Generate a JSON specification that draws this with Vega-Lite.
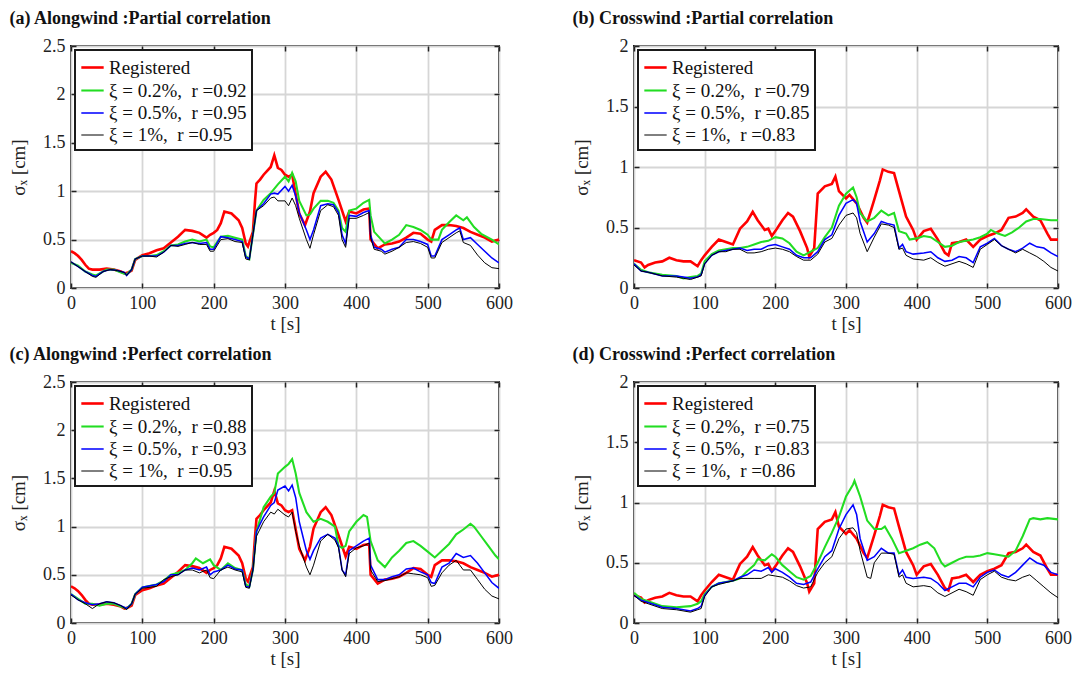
{
"$schema": "https://vega.github.io/schema/vega-lite/v6.json",
"padding": {"left": 8, "top": 9, "right": 10, "bottom": 6},
"background": "white",
"datasets": {"d": [
{"p":"A","s":"R","t":0,"v":0.38},{"p":"A","s":"R","t":5,"v":0.36},{"p":"A","s":"R","t":10,"v":0.33},{"p":"A","s":"R","t":15,"v":0.29},{"p":"A","s":"R","t":20,"v":0.24},{"p":"A","s":"R","t":25,"v":0.2},{"p":"A","s":"R","t":30,"v":0.19},{"p":"A","s":"R","t":40,"v":0.19},{"p":"A","s":"R","t":50,"v":0.2},{"p":"A","s":"R","t":60,"v":0.19},{"p":"A","s":"R","t":70,"v":0.17},{"p":"A","s":"R","t":75,"v":0.15},{"p":"A","s":"R","t":80,"v":0.16},{"p":"A","s":"R","t":85,"v":0.18},{"p":"A","s":"R","t":90,"v":0.29},{"p":"A","s":"R","t":100,"v":0.34},{"p":"A","s":"R","t":110,"v":0.36},{"p":"A","s":"R","t":120,"v":0.39},{"p":"A","s":"R","t":130,"v":0.41},{"p":"A","s":"R","t":140,"v":0.47},{"p":"A","s":"R","t":150,"v":0.53},{"p":"A","s":"R","t":160,"v":0.6},{"p":"A","s":"R","t":170,"v":0.59},{"p":"A","s":"R","t":180,"v":0.57},{"p":"A","s":"R","t":190,"v":0.52},{"p":"A","s":"R","t":195,"v":0.55},{"p":"A","s":"R","t":200,"v":0.57},{"p":"A","s":"R","t":205,"v":0.6},{"p":"A","s":"R","t":210,"v":0.67},{"p":"A","s":"R","t":215,"v":0.79},{"p":"A","s":"R","t":225,"v":0.77},{"p":"A","s":"R","t":235,"v":0.7},{"p":"A","s":"R","t":240,"v":0.62},{"p":"A","s":"R","t":245,"v":0.46},{"p":"A","s":"R","t":248,"v":0.43},{"p":"A","s":"R","t":255,"v":0.58},{"p":"A","s":"R","t":258,"v":0.9},{"p":"A","s":"R","t":260,"v":1.08},{"p":"A","s":"R","t":265,"v":1.12},{"p":"A","s":"R","t":270,"v":1.17},{"p":"A","s":"R","t":280,"v":1.25},{"p":"A","s":"R","t":285,"v":1.37},{"p":"A","s":"R","t":290,"v":1.24},{"p":"A","s":"R","t":295,"v":1.22},{"p":"A","s":"R","t":300,"v":1.17},{"p":"A","s":"R","t":305,"v":1.15},{"p":"A","s":"R","t":310,"v":1.17},{"p":"A","s":"R","t":313,"v":1.05},{"p":"A","s":"R","t":320,"v":0.77},{"p":"A","s":"R","t":328,"v":0.65},{"p":"A","s":"R","t":335,"v":0.79},{"p":"A","s":"R","t":340,"v":0.98},{"p":"A","s":"R","t":350,"v":1.15},{"p":"A","s":"R","t":357,"v":1.2},{"p":"A","s":"R","t":365,"v":1.12},{"p":"A","s":"R","t":375,"v":0.91},{"p":"A","s":"R","t":385,"v":0.69},{"p":"A","s":"R","t":390,"v":0.79},{"p":"A","s":"R","t":400,"v":0.77},{"p":"A","s":"R","t":410,"v":0.81},{"p":"A","s":"R","t":418,"v":0.82},{"p":"A","s":"R","t":420,"v":0.5},{"p":"A","s":"R","t":430,"v":0.41},{"p":"A","s":"R","t":440,"v":0.45},{"p":"A","s":"R","t":450,"v":0.46},{"p":"A","s":"R","t":460,"v":0.48},{"p":"A","s":"R","t":470,"v":0.52},{"p":"A","s":"R","t":480,"v":0.57},{"p":"A","s":"R","t":490,"v":0.56},{"p":"A","s":"R","t":500,"v":0.5},{"p":"A","s":"R","t":505,"v":0.48},{"p":"A","s":"R","t":510,"v":0.6},{"p":"A","s":"R","t":520,"v":0.65},{"p":"A","s":"R","t":530,"v":0.65},{"p":"A","s":"R","t":540,"v":0.64},{"p":"A","s":"R","t":550,"v":0.62},{"p":"A","s":"R","t":560,"v":0.58},{"p":"A","s":"R","t":570,"v":0.55},{"p":"A","s":"R","t":580,"v":0.52},{"p":"A","s":"R","t":590,"v":0.48},{"p":"A","s":"R","t":600,"v":0.5},
{"p":"C","s":"R","t":0,"v":0.23},{"p":"C","s":"R","t":10,"v":0.21},{"p":"C","s":"R","t":15,"v":0.17},{"p":"C","s":"R","t":20,"v":0.19},{"p":"C","s":"R","t":30,"v":0.21},{"p":"C","s":"R","t":40,"v":0.22},{"p":"C","s":"R","t":50,"v":0.25},{"p":"C","s":"R","t":60,"v":0.23},{"p":"C","s":"R","t":70,"v":0.22},{"p":"C","s":"R","t":80,"v":0.22},{"p":"C","s":"R","t":90,"v":0.18},{"p":"C","s":"R","t":95,"v":0.23},{"p":"C","s":"R","t":100,"v":0.27},{"p":"C","s":"R","t":110,"v":0.34},{"p":"C","s":"R","t":120,"v":0.4},{"p":"C","s":"R","t":130,"v":0.38},{"p":"C","s":"R","t":140,"v":0.36},{"p":"C","s":"R","t":150,"v":0.49},{"p":"C","s":"R","t":160,"v":0.55},{"p":"C","s":"R","t":168,"v":0.63},{"p":"C","s":"R","t":175,"v":0.56},{"p":"C","s":"R","t":185,"v":0.48},{"p":"C","s":"R","t":190,"v":0.49},{"p":"C","s":"R","t":195,"v":0.43},{"p":"C","s":"R","t":200,"v":0.47},{"p":"C","s":"R","t":210,"v":0.56},{"p":"C","s":"R","t":218,"v":0.62},{"p":"C","s":"R","t":225,"v":0.59},{"p":"C","s":"R","t":235,"v":0.47},{"p":"C","s":"R","t":245,"v":0.33},{"p":"C","s":"R","t":248,"v":0.26},{"p":"C","s":"R","t":255,"v":0.33},{"p":"C","s":"R","t":260,"v":0.78},{"p":"C","s":"R","t":270,"v":0.84},{"p":"C","s":"R","t":280,"v":0.86},{"p":"C","s":"R","t":285,"v":0.92},{"p":"C","s":"R","t":290,"v":0.8},{"p":"C","s":"R","t":300,"v":0.74},{"p":"C","s":"R","t":305,"v":0.77},{"p":"C","s":"R","t":315,"v":0.7},{"p":"C","s":"R","t":325,"v":0.58},{"p":"C","s":"R","t":330,"v":0.54},{"p":"C","s":"R","t":340,"v":0.73},{"p":"C","s":"R","t":348,"v":0.89},{"p":"C","s":"R","t":352,"v":0.98},{"p":"C","s":"R","t":360,"v":0.96},{"p":"C","s":"R","t":368,"v":0.95},{"p":"C","s":"R","t":375,"v":0.8},{"p":"C","s":"R","t":385,"v":0.59},{"p":"C","s":"R","t":395,"v":0.48},{"p":"C","s":"R","t":400,"v":0.4},{"p":"C","s":"R","t":410,"v":0.47},{"p":"C","s":"R","t":420,"v":0.49},{"p":"C","s":"R","t":430,"v":0.4},{"p":"C","s":"R","t":440,"v":0.29},{"p":"C","s":"R","t":445,"v":0.27},{"p":"C","s":"R","t":450,"v":0.37},{"p":"C","s":"R","t":460,"v":0.38},{"p":"C","s":"R","t":470,"v":0.4},{"p":"C","s":"R","t":480,"v":0.34},{"p":"C","s":"R","t":490,"v":0.4},{"p":"C","s":"R","t":500,"v":0.43},{"p":"C","s":"R","t":510,"v":0.45},{"p":"C","s":"R","t":520,"v":0.48},{"p":"C","s":"R","t":530,"v":0.58},{"p":"C","s":"R","t":540,"v":0.59},{"p":"C","s":"R","t":550,"v":0.62},{"p":"C","s":"R","t":555,"v":0.65},{"p":"C","s":"R","t":565,"v":0.59},{"p":"C","s":"R","t":575,"v":0.56},{"p":"C","s":"R","t":585,"v":0.45},{"p":"C","s":"R","t":590,"v":0.4},{"p":"C","s":"R","t":600,"v":0.4},
{"p":"a","s":"g","t":0,"v":0.26},{"p":"a","s":"g","t":10,"v":0.23},{"p":"a","s":"g","t":20,"v":0.17},{"p":"a","s":"g","t":30,"v":0.14},{"p":"a","s":"g","t":35,"v":0.13},{"p":"a","s":"g","t":40,"v":0.15},{"p":"a","s":"g","t":50,"v":0.19},{"p":"a","s":"g","t":60,"v":0.19},{"p":"a","s":"g","t":70,"v":0.16},{"p":"a","s":"g","t":78,"v":0.14},{"p":"a","s":"g","t":85,"v":0.19},{"p":"a","s":"g","t":90,"v":0.3},{"p":"a","s":"g","t":100,"v":0.33},{"p":"a","s":"g","t":110,"v":0.33},{"p":"a","s":"g","t":120,"v":0.34},{"p":"a","s":"g","t":130,"v":0.38},{"p":"a","s":"g","t":140,"v":0.44},{"p":"a","s":"g","t":150,"v":0.45},{"p":"a","s":"g","t":160,"v":0.48},{"p":"a","s":"g","t":170,"v":0.5},{"p":"a","s":"g","t":180,"v":0.48},{"p":"a","s":"g","t":190,"v":0.5},{"p":"a","s":"g","t":195,"v":0.43},{"p":"a","s":"g","t":200,"v":0.42},{"p":"a","s":"g","t":210,"v":0.53},{"p":"a","s":"g","t":220,"v":0.54},{"p":"a","s":"g","t":230,"v":0.52},{"p":"a","s":"g","t":240,"v":0.5},{"p":"a","s":"g","t":245,"v":0.33},{"p":"a","s":"g","t":250,"v":0.3},{"p":"a","s":"g","t":255,"v":0.55},{"p":"a","s":"g","t":260,"v":0.8},{"p":"a","s":"g","t":270,"v":0.91},{"p":"a","s":"g","t":280,"v":0.98},{"p":"a","s":"g","t":290,"v":1.07},{"p":"a","s":"g","t":300,"v":1.15},{"p":"a","s":"g","t":305,"v":1.1},{"p":"a","s":"g","t":310,"v":1.19},{"p":"a","s":"g","t":315,"v":1.1},{"p":"a","s":"g","t":320,"v":0.9},{"p":"a","s":"g","t":330,"v":0.75},{"p":"a","s":"g","t":335,"v":0.76},{"p":"a","s":"g","t":340,"v":0.82},{"p":"a","s":"g","t":350,"v":0.9},{"p":"a","s":"g","t":360,"v":0.9},{"p":"a","s":"g","t":368,"v":0.88},{"p":"a","s":"g","t":375,"v":0.8},{"p":"a","s":"g","t":380,"v":0.62},{"p":"a","s":"g","t":385,"v":0.58},{"p":"a","s":"g","t":390,"v":0.8},{"p":"a","s":"g","t":400,"v":0.82},{"p":"a","s":"g","t":410,"v":0.88},{"p":"a","s":"g","t":418,"v":0.91},{"p":"a","s":"g","t":420,"v":0.75},{"p":"a","s":"g","t":425,"v":0.58},{"p":"a","s":"g","t":435,"v":0.5},{"p":"a","s":"g","t":440,"v":0.46},{"p":"a","s":"g","t":450,"v":0.5},{"p":"a","s":"g","t":460,"v":0.55},{"p":"a","s":"g","t":470,"v":0.65},{"p":"a","s":"g","t":480,"v":0.63},{"p":"a","s":"g","t":490,"v":0.6},{"p":"a","s":"g","t":500,"v":0.55},{"p":"a","s":"g","t":505,"v":0.5},{"p":"a","s":"g","t":515,"v":0.5},{"p":"a","s":"g","t":520,"v":0.6},{"p":"a","s":"g","t":530,"v":0.68},{"p":"a","s":"g","t":540,"v":0.75},{"p":"a","s":"g","t":550,"v":0.7},{"p":"a","s":"g","t":555,"v":0.73},{"p":"a","s":"g","t":565,"v":0.63},{"p":"a","s":"g","t":575,"v":0.56},{"p":"a","s":"g","t":590,"v":0.5},{"p":"a","s":"g","t":600,"v":0.45},
{"p":"a","s":"b","t":0,"v":0.27},{"p":"a","s":"b","t":10,"v":0.22},{"p":"a","s":"b","t":20,"v":0.17},{"p":"a","s":"b","t":30,"v":0.13},{"p":"a","s":"b","t":35,"v":0.12},{"p":"a","s":"b","t":45,"v":0.17},{"p":"a","s":"b","t":55,"v":0.19},{"p":"a","s":"b","t":65,"v":0.18},{"p":"a","s":"b","t":75,"v":0.16},{"p":"a","s":"b","t":78,"v":0.13},{"p":"a","s":"b","t":85,"v":0.19},{"p":"a","s":"b","t":90,"v":0.3},{"p":"a","s":"b","t":100,"v":0.33},{"p":"a","s":"b","t":110,"v":0.33},{"p":"a","s":"b","t":120,"v":0.33},{"p":"a","s":"b","t":130,"v":0.37},{"p":"a","s":"b","t":140,"v":0.44},{"p":"a","s":"b","t":150,"v":0.44},{"p":"a","s":"b","t":160,"v":0.46},{"p":"a","s":"b","t":170,"v":0.47},{"p":"a","s":"b","t":180,"v":0.46},{"p":"a","s":"b","t":190,"v":0.47},{"p":"a","s":"b","t":195,"v":0.4},{"p":"a","s":"b","t":200,"v":0.4},{"p":"a","s":"b","t":210,"v":0.53},{"p":"a","s":"b","t":220,"v":0.52},{"p":"a","s":"b","t":230,"v":0.5},{"p":"a","s":"b","t":240,"v":0.48},{"p":"a","s":"b","t":245,"v":0.32},{"p":"a","s":"b","t":250,"v":0.3},{"p":"a","s":"b","t":255,"v":0.55},{"p":"a","s":"b","t":260,"v":0.8},{"p":"a","s":"b","t":270,"v":0.87},{"p":"a","s":"b","t":280,"v":0.97},{"p":"a","s":"b","t":285,"v":0.98},{"p":"a","s":"b","t":290,"v":0.97},{"p":"a","s":"b","t":300,"v":1.05},{"p":"a","s":"b","t":305,"v":1.0},{"p":"a","s":"b","t":310,"v":1.06},{"p":"a","s":"b","t":315,"v":0.95},{"p":"a","s":"b","t":320,"v":0.78},{"p":"a","s":"b","t":330,"v":0.6},{"p":"a","s":"b","t":335,"v":0.5},{"p":"a","s":"b","t":340,"v":0.6},{"p":"a","s":"b","t":350,"v":0.85},{"p":"a","s":"b","t":360,"v":0.87},{"p":"a","s":"b","t":368,"v":0.86},{"p":"a","s":"b","t":375,"v":0.78},{"p":"a","s":"b","t":380,"v":0.55},{"p":"a","s":"b","t":385,"v":0.46},{"p":"a","s":"b","t":390,"v":0.75},{"p":"a","s":"b","t":400,"v":0.74},{"p":"a","s":"b","t":410,"v":0.78},{"p":"a","s":"b","t":418,"v":0.8},{"p":"a","s":"b","t":420,"v":0.55},{"p":"a","s":"b","t":425,"v":0.42},{"p":"a","s":"b","t":435,"v":0.4},{"p":"a","s":"b","t":440,"v":0.37},{"p":"a","s":"b","t":450,"v":0.4},{"p":"a","s":"b","t":460,"v":0.42},{"p":"a","s":"b","t":470,"v":0.5},{"p":"a","s":"b","t":480,"v":0.5},{"p":"a","s":"b","t":490,"v":0.48},{"p":"a","s":"b","t":500,"v":0.45},{"p":"a","s":"b","t":505,"v":0.33},{"p":"a","s":"b","t":510,"v":0.33},{"p":"a","s":"b","t":520,"v":0.5},{"p":"a","s":"b","t":530,"v":0.55},{"p":"a","s":"b","t":540,"v":0.6},{"p":"a","s":"b","t":545,"v":0.62},{"p":"a","s":"b","t":550,"v":0.5},{"p":"a","s":"b","t":560,"v":0.52},{"p":"a","s":"b","t":570,"v":0.45},{"p":"a","s":"b","t":580,"v":0.38},{"p":"a","s":"b","t":590,"v":0.31},{"p":"a","s":"b","t":600,"v":0.26},
{"p":"a","s":"k","t":0,"v":0.27},{"p":"a","s":"k","t":10,"v":0.22},{"p":"a","s":"k","t":20,"v":0.17},{"p":"a","s":"k","t":30,"v":0.12},{"p":"a","s":"k","t":35,"v":0.11},{"p":"a","s":"k","t":45,"v":0.17},{"p":"a","s":"k","t":55,"v":0.19},{"p":"a","s":"k","t":65,"v":0.18},{"p":"a","s":"k","t":75,"v":0.16},{"p":"a","s":"k","t":78,"v":0.13},{"p":"a","s":"k","t":85,"v":0.19},{"p":"a","s":"k","t":90,"v":0.3},{"p":"a","s":"k","t":100,"v":0.33},{"p":"a","s":"k","t":110,"v":0.33},{"p":"a","s":"k","t":120,"v":0.32},{"p":"a","s":"k","t":130,"v":0.37},{"p":"a","s":"k","t":140,"v":0.44},{"p":"a","s":"k","t":150,"v":0.43},{"p":"a","s":"k","t":160,"v":0.45},{"p":"a","s":"k","t":170,"v":0.47},{"p":"a","s":"k","t":180,"v":0.45},{"p":"a","s":"k","t":190,"v":0.45},{"p":"a","s":"k","t":195,"v":0.38},{"p":"a","s":"k","t":200,"v":0.38},{"p":"a","s":"k","t":210,"v":0.5},{"p":"a","s":"k","t":220,"v":0.51},{"p":"a","s":"k","t":230,"v":0.48},{"p":"a","s":"k","t":240,"v":0.47},{"p":"a","s":"k","t":245,"v":0.3},{"p":"a","s":"k","t":250,"v":0.29},{"p":"a","s":"k","t":255,"v":0.55},{"p":"a","s":"k","t":260,"v":0.8},{"p":"a","s":"k","t":270,"v":0.85},{"p":"a","s":"k","t":280,"v":0.93},{"p":"a","s":"k","t":285,"v":0.94},{"p":"a","s":"k","t":290,"v":0.9},{"p":"a","s":"k","t":300,"v":0.9},{"p":"a","s":"k","t":305,"v":0.85},{"p":"a","s":"k","t":310,"v":0.93},{"p":"a","s":"k","t":315,"v":0.85},{"p":"a","s":"k","t":320,"v":0.72},{"p":"a","s":"k","t":330,"v":0.5},{"p":"a","s":"k","t":335,"v":0.41},{"p":"a","s":"k","t":340,"v":0.55},{"p":"a","s":"k","t":350,"v":0.8},{"p":"a","s":"k","t":360,"v":0.86},{"p":"a","s":"k","t":368,"v":0.84},{"p":"a","s":"k","t":375,"v":0.75},{"p":"a","s":"k","t":380,"v":0.5},{"p":"a","s":"k","t":385,"v":0.42},{"p":"a","s":"k","t":390,"v":0.72},{"p":"a","s":"k","t":400,"v":0.72},{"p":"a","s":"k","t":410,"v":0.75},{"p":"a","s":"k","t":418,"v":0.78},{"p":"a","s":"k","t":420,"v":0.52},{"p":"a","s":"k","t":425,"v":0.4},{"p":"a","s":"k","t":435,"v":0.38},{"p":"a","s":"k","t":440,"v":0.35},{"p":"a","s":"k","t":450,"v":0.38},{"p":"a","s":"k","t":460,"v":0.42},{"p":"a","s":"k","t":470,"v":0.47},{"p":"a","s":"k","t":480,"v":0.48},{"p":"a","s":"k","t":490,"v":0.46},{"p":"a","s":"k","t":500,"v":0.42},{"p":"a","s":"k","t":505,"v":0.31},{"p":"a","s":"k","t":510,"v":0.31},{"p":"a","s":"k","t":520,"v":0.47},{"p":"a","s":"k","t":530,"v":0.52},{"p":"a","s":"k","t":540,"v":0.57},{"p":"a","s":"k","t":545,"v":0.59},{"p":"a","s":"k","t":550,"v":0.47},{"p":"a","s":"k","t":560,"v":0.44},{"p":"a","s":"k","t":570,"v":0.34},{"p":"a","s":"k","t":580,"v":0.26},{"p":"a","s":"k","t":590,"v":0.21},{"p":"a","s":"k","t":600,"v":0.2},
{"p":"b","s":"g","t":0,"v":0.2},{"p":"b","s":"g","t":10,"v":0.15},{"p":"b","s":"g","t":20,"v":0.13},{"p":"b","s":"g","t":40,"v":0.11},{"p":"b","s":"g","t":60,"v":0.1},{"p":"b","s":"g","t":70,"v":0.08},{"p":"b","s":"g","t":80,"v":0.09},{"p":"b","s":"g","t":90,"v":0.1},{"p":"b","s":"g","t":95,"v":0.12},{"p":"b","s":"g","t":100,"v":0.22},{"p":"b","s":"g","t":110,"v":0.28},{"p":"b","s":"g","t":120,"v":0.31},{"p":"b","s":"g","t":130,"v":0.32},{"p":"b","s":"g","t":140,"v":0.33},{"p":"b","s":"g","t":150,"v":0.33},{"p":"b","s":"g","t":160,"v":0.34},{"p":"b","s":"g","t":170,"v":0.36},{"p":"b","s":"g","t":180,"v":0.38},{"p":"b","s":"g","t":190,"v":0.39},{"p":"b","s":"g","t":200,"v":0.42},{"p":"b","s":"g","t":210,"v":0.41},{"p":"b","s":"g","t":220,"v":0.37},{"p":"b","s":"g","t":230,"v":0.3},{"p":"b","s":"g","t":240,"v":0.27},{"p":"b","s":"g","t":250,"v":0.3},{"p":"b","s":"g","t":260,"v":0.33},{"p":"b","s":"g","t":270,"v":0.42},{"p":"b","s":"g","t":280,"v":0.5},{"p":"b","s":"g","t":290,"v":0.68},{"p":"b","s":"g","t":300,"v":0.78},{"p":"b","s":"g","t":310,"v":0.83},{"p":"b","s":"g","t":315,"v":0.75},{"p":"b","s":"g","t":320,"v":0.62},{"p":"b","s":"g","t":330,"v":0.55},{"p":"b","s":"g","t":340,"v":0.58},{"p":"b","s":"g","t":350,"v":0.64},{"p":"b","s":"g","t":360,"v":0.6},{"p":"b","s":"g","t":368,"v":0.62},{"p":"b","s":"g","t":375,"v":0.47},{"p":"b","s":"g","t":385,"v":0.45},{"p":"b","s":"g","t":390,"v":0.4},{"p":"b","s":"g","t":400,"v":0.41},{"p":"b","s":"g","t":410,"v":0.43},{"p":"b","s":"g","t":420,"v":0.42},{"p":"b","s":"g","t":430,"v":0.38},{"p":"b","s":"g","t":440,"v":0.34},{"p":"b","s":"g","t":450,"v":0.35},{"p":"b","s":"g","t":460,"v":0.38},{"p":"b","s":"g","t":470,"v":0.39},{"p":"b","s":"g","t":480,"v":0.4},{"p":"b","s":"g","t":490,"v":0.42},{"p":"b","s":"g","t":500,"v":0.45},{"p":"b","s":"g","t":505,"v":0.48},{"p":"b","s":"g","t":515,"v":0.45},{"p":"b","s":"g","t":525,"v":0.43},{"p":"b","s":"g","t":535,"v":0.46},{"p":"b","s":"g","t":545,"v":0.5},{"p":"b","s":"g","t":555,"v":0.55},{"p":"b","s":"g","t":565,"v":0.57},{"p":"b","s":"g","t":575,"v":0.57},{"p":"b","s":"g","t":590,"v":0.56},{"p":"b","s":"g","t":600,"v":0.56},
{"p":"b","s":"b","t":0,"v":0.2},{"p":"b","s":"b","t":10,"v":0.14},{"p":"b","s":"b","t":20,"v":0.13},{"p":"b","s":"b","t":40,"v":0.1},{"p":"b","s":"b","t":50,"v":0.1},{"p":"b","s":"b","t":60,"v":0.1},{"p":"b","s":"b","t":70,"v":0.09},{"p":"b","s":"b","t":80,"v":0.08},{"p":"b","s":"b","t":90,"v":0.09},{"p":"b","s":"b","t":95,"v":0.11},{"p":"b","s":"b","t":100,"v":0.2},{"p":"b","s":"b","t":110,"v":0.27},{"p":"b","s":"b","t":120,"v":0.3},{"p":"b","s":"b","t":130,"v":0.31},{"p":"b","s":"b","t":140,"v":0.32},{"p":"b","s":"b","t":150,"v":0.33},{"p":"b","s":"b","t":160,"v":0.31},{"p":"b","s":"b","t":170,"v":0.32},{"p":"b","s":"b","t":180,"v":0.32},{"p":"b","s":"b","t":190,"v":0.35},{"p":"b","s":"b","t":200,"v":0.36},{"p":"b","s":"b","t":210,"v":0.34},{"p":"b","s":"b","t":220,"v":0.32},{"p":"b","s":"b","t":230,"v":0.27},{"p":"b","s":"b","t":240,"v":0.25},{"p":"b","s":"b","t":250,"v":0.25},{"p":"b","s":"b","t":260,"v":0.3},{"p":"b","s":"b","t":270,"v":0.4},{"p":"b","s":"b","t":280,"v":0.44},{"p":"b","s":"b","t":290,"v":0.6},{"p":"b","s":"b","t":300,"v":0.7},{"p":"b","s":"b","t":310,"v":0.73},{"p":"b","s":"b","t":315,"v":0.7},{"p":"b","s":"b","t":320,"v":0.55},{"p":"b","s":"b","t":330,"v":0.38},{"p":"b","s":"b","t":340,"v":0.45},{"p":"b","s":"b","t":350,"v":0.55},{"p":"b","s":"b","t":360,"v":0.53},{"p":"b","s":"b","t":368,"v":0.52},{"p":"b","s":"b","t":375,"v":0.33},{"p":"b","s":"b","t":380,"v":0.36},{"p":"b","s":"b","t":385,"v":0.3},{"p":"b","s":"b","t":395,"v":0.28},{"p":"b","s":"b","t":410,"v":0.29},{"p":"b","s":"b","t":420,"v":0.3},{"p":"b","s":"b","t":430,"v":0.25},{"p":"b","s":"b","t":440,"v":0.22},{"p":"b","s":"b","t":450,"v":0.23},{"p":"b","s":"b","t":460,"v":0.26},{"p":"b","s":"b","t":470,"v":0.25},{"p":"b","s":"b","t":480,"v":0.21},{"p":"b","s":"b","t":490,"v":0.34},{"p":"b","s":"b","t":500,"v":0.37},{"p":"b","s":"b","t":510,"v":0.41},{"p":"b","s":"b","t":520,"v":0.35},{"p":"b","s":"b","t":530,"v":0.32},{"p":"b","s":"b","t":540,"v":0.3},{"p":"b","s":"b","t":550,"v":0.33},{"p":"b","s":"b","t":560,"v":0.37},{"p":"b","s":"b","t":570,"v":0.34},{"p":"b","s":"b","t":580,"v":0.33},{"p":"b","s":"b","t":590,"v":0.29},{"p":"b","s":"b","t":600,"v":0.26},
{"p":"b","s":"k","t":0,"v":0.19},{"p":"b","s":"k","t":10,"v":0.14},{"p":"b","s":"k","t":20,"v":0.13},{"p":"b","s":"k","t":40,"v":0.1},{"p":"b","s":"k","t":60,"v":0.09},{"p":"b","s":"k","t":70,"v":0.08},{"p":"b","s":"k","t":80,"v":0.07},{"p":"b","s":"k","t":90,"v":0.09},{"p":"b","s":"k","t":95,"v":0.1},{"p":"b","s":"k","t":100,"v":0.2},{"p":"b","s":"k","t":110,"v":0.27},{"p":"b","s":"k","t":120,"v":0.3},{"p":"b","s":"k","t":130,"v":0.3},{"p":"b","s":"k","t":140,"v":0.32},{"p":"b","s":"k","t":150,"v":0.32},{"p":"b","s":"k","t":160,"v":0.29},{"p":"b","s":"k","t":170,"v":0.29},{"p":"b","s":"k","t":180,"v":0.3},{"p":"b","s":"k","t":190,"v":0.32},{"p":"b","s":"k","t":200,"v":0.33},{"p":"b","s":"k","t":210,"v":0.32},{"p":"b","s":"k","t":220,"v":0.3},{"p":"b","s":"k","t":230,"v":0.26},{"p":"b","s":"k","t":240,"v":0.23},{"p":"b","s":"k","t":250,"v":0.23},{"p":"b","s":"k","t":260,"v":0.28},{"p":"b","s":"k","t":270,"v":0.38},{"p":"b","s":"k","t":280,"v":0.41},{"p":"b","s":"k","t":290,"v":0.52},{"p":"b","s":"k","t":300,"v":0.6},{"p":"b","s":"k","t":310,"v":0.62},{"p":"b","s":"k","t":315,"v":0.58},{"p":"b","s":"k","t":320,"v":0.45},{"p":"b","s":"k","t":330,"v":0.3},{"p":"b","s":"k","t":340,"v":0.42},{"p":"b","s":"k","t":350,"v":0.53},{"p":"b","s":"k","t":360,"v":0.52},{"p":"b","s":"k","t":368,"v":0.5},{"p":"b","s":"k","t":375,"v":0.32},{"p":"b","s":"k","t":380,"v":0.33},{"p":"b","s":"k","t":385,"v":0.27},{"p":"b","s":"k","t":395,"v":0.24},{"p":"b","s":"k","t":410,"v":0.23},{"p":"b","s":"k","t":420,"v":0.25},{"p":"b","s":"k","t":430,"v":0.21},{"p":"b","s":"k","t":440,"v":0.18},{"p":"b","s":"k","t":450,"v":0.2},{"p":"b","s":"k","t":460,"v":0.22},{"p":"b","s":"k","t":470,"v":0.2},{"p":"b","s":"k","t":480,"v":0.17},{"p":"b","s":"k","t":490,"v":0.32},{"p":"b","s":"k","t":500,"v":0.36},{"p":"b","s":"k","t":510,"v":0.4},{"p":"b","s":"k","t":520,"v":0.35},{"p":"b","s":"k","t":530,"v":0.32},{"p":"b","s":"k","t":540,"v":0.29},{"p":"b","s":"k","t":550,"v":0.32},{"p":"b","s":"k","t":560,"v":0.29},{"p":"b","s":"k","t":570,"v":0.26},{"p":"b","s":"k","t":580,"v":0.22},{"p":"b","s":"k","t":590,"v":0.17},{"p":"b","s":"k","t":600,"v":0.14},
{"p":"c","s":"g","t":0,"v":0.3},{"p":"c","s":"g","t":10,"v":0.25},{"p":"c","s":"g","t":20,"v":0.2},{"p":"c","s":"g","t":30,"v":0.2},{"p":"c","s":"g","t":40,"v":0.18},{"p":"c","s":"g","t":50,"v":0.2},{"p":"c","s":"g","t":60,"v":0.2},{"p":"c","s":"g","t":70,"v":0.17},{"p":"c","s":"g","t":78,"v":0.15},{"p":"c","s":"g","t":85,"v":0.2},{"p":"c","s":"g","t":90,"v":0.3},{"p":"c","s":"g","t":100,"v":0.37},{"p":"c","s":"g","t":120,"v":0.4},{"p":"c","s":"g","t":130,"v":0.44},{"p":"c","s":"g","t":140,"v":0.5},{"p":"c","s":"g","t":150,"v":0.52},{"p":"c","s":"g","t":160,"v":0.55},{"p":"c","s":"g","t":170,"v":0.62},{"p":"c","s":"g","t":175,"v":0.67},{"p":"c","s":"g","t":185,"v":0.62},{"p":"c","s":"g","t":195,"v":0.66},{"p":"c","s":"g","t":200,"v":0.6},{"p":"c","s":"g","t":210,"v":0.55},{"p":"c","s":"g","t":220,"v":0.62},{"p":"c","s":"g","t":230,"v":0.57},{"p":"c","s":"g","t":240,"v":0.55},{"p":"c","s":"g","t":245,"v":0.4},{"p":"c","s":"g","t":250,"v":0.38},{"p":"c","s":"g","t":255,"v":0.55},{"p":"c","s":"g","t":260,"v":0.95},{"p":"c","s":"g","t":270,"v":1.2},{"p":"c","s":"g","t":280,"v":1.31},{"p":"c","s":"g","t":285,"v":1.35},{"p":"c","s":"g","t":290,"v":1.55},{"p":"c","s":"g","t":300,"v":1.62},{"p":"c","s":"g","t":305,"v":1.65},{"p":"c","s":"g","t":310,"v":1.7},{"p":"c","s":"g","t":315,"v":1.55},{"p":"c","s":"g","t":320,"v":1.35},{"p":"c","s":"g","t":330,"v":1.15},{"p":"c","s":"g","t":340,"v":1.05},{"p":"c","s":"g","t":350,"v":1.08},{"p":"c","s":"g","t":360,"v":1.05},{"p":"c","s":"g","t":370,"v":1.0},{"p":"c","s":"g","t":375,"v":0.8},{"p":"c","s":"g","t":380,"v":0.78},{"p":"c","s":"g","t":385,"v":0.8},{"p":"c","s":"g","t":390,"v":0.95},{"p":"c","s":"g","t":400,"v":1.05},{"p":"c","s":"g","t":410,"v":1.12},{"p":"c","s":"g","t":415,"v":1.1},{"p":"c","s":"g","t":420,"v":0.85},{"p":"c","s":"g","t":430,"v":0.65},{"p":"c","s":"g","t":440,"v":0.58},{"p":"c","s":"g","t":450,"v":0.68},{"p":"c","s":"g","t":460,"v":0.75},{"p":"c","s":"g","t":470,"v":0.83},{"p":"c","s":"g","t":480,"v":0.85},{"p":"c","s":"g","t":490,"v":0.8},{"p":"c","s":"g","t":500,"v":0.74},{"p":"c","s":"g","t":510,"v":0.68},{"p":"c","s":"g","t":520,"v":0.75},{"p":"c","s":"g","t":530,"v":0.82},{"p":"c","s":"g","t":540,"v":0.92},{"p":"c","s":"g","t":550,"v":0.97},{"p":"c","s":"g","t":560,"v":1.03},{"p":"c","s":"g","t":565,"v":1.0},{"p":"c","s":"g","t":575,"v":0.9},{"p":"c","s":"g","t":585,"v":0.8},{"p":"c","s":"g","t":595,"v":0.7},{"p":"c","s":"g","t":600,"v":0.66},
{"p":"c","s":"b","t":0,"v":0.3},{"p":"c","s":"b","t":10,"v":0.24},{"p":"c","s":"b","t":20,"v":0.21},{"p":"c","s":"b","t":30,"v":0.19},{"p":"c","s":"b","t":40,"v":0.2},{"p":"c","s":"b","t":50,"v":0.22},{"p":"c","s":"b","t":60,"v":0.21},{"p":"c","s":"b","t":70,"v":0.18},{"p":"c","s":"b","t":78,"v":0.15},{"p":"c","s":"b","t":85,"v":0.2},{"p":"c","s":"b","t":90,"v":0.3},{"p":"c","s":"b","t":100,"v":0.37},{"p":"c","s":"b","t":120,"v":0.4},{"p":"c","s":"b","t":130,"v":0.43},{"p":"c","s":"b","t":140,"v":0.5},{"p":"c","s":"b","t":150,"v":0.5},{"p":"c","s":"b","t":160,"v":0.55},{"p":"c","s":"b","t":170,"v":0.57},{"p":"c","s":"b","t":180,"v":0.55},{"p":"c","s":"b","t":190,"v":0.58},{"p":"c","s":"b","t":195,"v":0.5},{"p":"c","s":"b","t":200,"v":0.53},{"p":"c","s":"b","t":210,"v":0.55},{"p":"c","s":"b","t":220,"v":0.6},{"p":"c","s":"b","t":230,"v":0.56},{"p":"c","s":"b","t":240,"v":0.55},{"p":"c","s":"b","t":245,"v":0.38},{"p":"c","s":"b","t":250,"v":0.37},{"p":"c","s":"b","t":255,"v":0.55},{"p":"c","s":"b","t":260,"v":0.95},{"p":"c","s":"b","t":270,"v":1.1},{"p":"c","s":"b","t":280,"v":1.22},{"p":"c","s":"b","t":285,"v":1.25},{"p":"c","s":"b","t":290,"v":1.38},{"p":"c","s":"b","t":300,"v":1.42},{"p":"c","s":"b","t":305,"v":1.37},{"p":"c","s":"b","t":310,"v":1.43},{"p":"c","s":"b","t":315,"v":1.3},{"p":"c","s":"b","t":320,"v":1.05},{"p":"c","s":"b","t":330,"v":0.75},{"p":"c","s":"b","t":335,"v":0.66},{"p":"c","s":"b","t":340,"v":0.75},{"p":"c","s":"b","t":350,"v":0.88},{"p":"c","s":"b","t":360,"v":0.92},{"p":"c","s":"b","t":370,"v":0.88},{"p":"c","s":"b","t":375,"v":0.8},{"p":"c","s":"b","t":380,"v":0.55},{"p":"c","s":"b","t":385,"v":0.5},{"p":"c","s":"b","t":390,"v":0.75},{"p":"c","s":"b","t":400,"v":0.8},{"p":"c","s":"b","t":410,"v":0.85},{"p":"c","s":"b","t":418,"v":0.88},{"p":"c","s":"b","t":420,"v":0.6},{"p":"c","s":"b","t":430,"v":0.45},{"p":"c","s":"b","t":440,"v":0.45},{"p":"c","s":"b","t":450,"v":0.48},{"p":"c","s":"b","t":460,"v":0.5},{"p":"c","s":"b","t":470,"v":0.56},{"p":"c","s":"b","t":480,"v":0.57},{"p":"c","s":"b","t":490,"v":0.53},{"p":"c","s":"b","t":500,"v":0.5},{"p":"c","s":"b","t":505,"v":0.42},{"p":"c","s":"b","t":510,"v":0.41},{"p":"c","s":"b","t":520,"v":0.58},{"p":"c","s":"b","t":530,"v":0.62},{"p":"c","s":"b","t":540,"v":0.72},{"p":"c","s":"b","t":550,"v":0.68},{"p":"c","s":"b","t":560,"v":0.7},{"p":"c","s":"b","t":570,"v":0.62},{"p":"c","s":"b","t":580,"v":0.52},{"p":"c","s":"b","t":590,"v":0.42},{"p":"c","s":"b","t":600,"v":0.36},
{"p":"c","s":"k","t":0,"v":0.29},{"p":"c","s":"k","t":10,"v":0.24},{"p":"c","s":"k","t":20,"v":0.2},{"p":"c","s":"k","t":30,"v":0.15},{"p":"c","s":"k","t":40,"v":0.2},{"p":"c","s":"k","t":50,"v":0.22},{"p":"c","s":"k","t":60,"v":0.21},{"p":"c","s":"k","t":70,"v":0.18},{"p":"c","s":"k","t":78,"v":0.14},{"p":"c","s":"k","t":85,"v":0.2},{"p":"c","s":"k","t":90,"v":0.3},{"p":"c","s":"k","t":100,"v":0.36},{"p":"c","s":"k","t":120,"v":0.38},{"p":"c","s":"k","t":130,"v":0.45},{"p":"c","s":"k","t":140,"v":0.48},{"p":"c","s":"k","t":150,"v":0.5},{"p":"c","s":"k","t":160,"v":0.55},{"p":"c","s":"k","t":170,"v":0.55},{"p":"c","s":"k","t":180,"v":0.52},{"p":"c","s":"k","t":190,"v":0.55},{"p":"c","s":"k","t":195,"v":0.47},{"p":"c","s":"k","t":200,"v":0.46},{"p":"c","s":"k","t":210,"v":0.55},{"p":"c","s":"k","t":220,"v":0.58},{"p":"c","s":"k","t":230,"v":0.55},{"p":"c","s":"k","t":240,"v":0.53},{"p":"c","s":"k","t":245,"v":0.37},{"p":"c","s":"k","t":250,"v":0.36},{"p":"c","s":"k","t":255,"v":0.55},{"p":"c","s":"k","t":260,"v":0.9},{"p":"c","s":"k","t":270,"v":1.05},{"p":"c","s":"k","t":280,"v":1.15},{"p":"c","s":"k","t":285,"v":1.13},{"p":"c","s":"k","t":290,"v":1.18},{"p":"c","s":"k","t":300,"v":1.12},{"p":"c","s":"k","t":305,"v":1.1},{"p":"c","s":"k","t":310,"v":1.15},{"p":"c","s":"k","t":315,"v":0.95},{"p":"c","s":"k","t":320,"v":0.8},{"p":"c","s":"k","t":330,"v":0.58},{"p":"c","s":"k","t":335,"v":0.5},{"p":"c","s":"k","t":340,"v":0.6},{"p":"c","s":"k","t":350,"v":0.85},{"p":"c","s":"k","t":360,"v":0.92},{"p":"c","s":"k","t":370,"v":0.86},{"p":"c","s":"k","t":375,"v":0.78},{"p":"c","s":"k","t":380,"v":0.55},{"p":"c","s":"k","t":385,"v":0.48},{"p":"c","s":"k","t":390,"v":0.72},{"p":"c","s":"k","t":400,"v":0.78},{"p":"c","s":"k","t":410,"v":0.8},{"p":"c","s":"k","t":418,"v":0.83},{"p":"c","s":"k","t":420,"v":0.55},{"p":"c","s":"k","t":430,"v":0.43},{"p":"c","s":"k","t":440,"v":0.44},{"p":"c","s":"k","t":450,"v":0.46},{"p":"c","s":"k","t":460,"v":0.48},{"p":"c","s":"k","t":470,"v":0.52},{"p":"c","s":"k","t":480,"v":0.51},{"p":"c","s":"k","t":490,"v":0.5},{"p":"c","s":"k","t":500,"v":0.47},{"p":"c","s":"k","t":505,"v":0.38},{"p":"c","s":"k","t":510,"v":0.39},{"p":"c","s":"k","t":520,"v":0.52},{"p":"c","s":"k","t":530,"v":0.6},{"p":"c","s":"k","t":540,"v":0.65},{"p":"c","s":"k","t":550,"v":0.55},{"p":"c","s":"k","t":560,"v":0.55},{"p":"c","s":"k","t":570,"v":0.45},{"p":"c","s":"k","t":580,"v":0.35},{"p":"c","s":"k","t":590,"v":0.28},{"p":"c","s":"k","t":600,"v":0.25},
{"p":"d","s":"g","t":0,"v":0.25},{"p":"d","s":"g","t":10,"v":0.2},{"p":"d","s":"g","t":20,"v":0.18},{"p":"d","s":"g","t":40,"v":0.14},{"p":"d","s":"g","t":60,"v":0.13},{"p":"d","s":"g","t":80,"v":0.14},{"p":"d","s":"g","t":90,"v":0.16},{"p":"d","s":"g","t":95,"v":0.18},{"p":"d","s":"g","t":100,"v":0.24},{"p":"d","s":"g","t":110,"v":0.3},{"p":"d","s":"g","t":120,"v":0.33},{"p":"d","s":"g","t":140,"v":0.35},{"p":"d","s":"g","t":150,"v":0.37},{"p":"d","s":"g","t":160,"v":0.43},{"p":"d","s":"g","t":170,"v":0.48},{"p":"d","s":"g","t":175,"v":0.53},{"p":"d","s":"g","t":185,"v":0.52},{"p":"d","s":"g","t":195,"v":0.57},{"p":"d","s":"g","t":200,"v":0.55},{"p":"d","s":"g","t":210,"v":0.48},{"p":"d","s":"g","t":220,"v":0.43},{"p":"d","s":"g","t":230,"v":0.38},{"p":"d","s":"g","t":240,"v":0.36},{"p":"d","s":"g","t":250,"v":0.39},{"p":"d","s":"g","t":260,"v":0.5},{"p":"d","s":"g","t":270,"v":0.63},{"p":"d","s":"g","t":280,"v":0.75},{"p":"d","s":"g","t":290,"v":0.88},{"p":"d","s":"g","t":300,"v":1.05},{"p":"d","s":"g","t":310,"v":1.15},{"p":"d","s":"g","t":312,"v":1.18},{"p":"d","s":"g","t":320,"v":1.05},{"p":"d","s":"g","t":330,"v":0.85},{"p":"d","s":"g","t":340,"v":0.78},{"p":"d","s":"g","t":350,"v":0.78},{"p":"d","s":"g","t":355,"v":0.8},{"p":"d","s":"g","t":365,"v":0.7},{"p":"d","s":"g","t":375,"v":0.58},{"p":"d","s":"g","t":385,"v":0.6},{"p":"d","s":"g","t":395,"v":0.62},{"p":"d","s":"g","t":405,"v":0.65},{"p":"d","s":"g","t":415,"v":0.67},{"p":"d","s":"g","t":425,"v":0.62},{"p":"d","s":"g","t":435,"v":0.5},{"p":"d","s":"g","t":440,"v":0.47},{"p":"d","s":"g","t":450,"v":0.5},{"p":"d","s":"g","t":460,"v":0.53},{"p":"d","s":"g","t":470,"v":0.55},{"p":"d","s":"g","t":480,"v":0.55},{"p":"d","s":"g","t":490,"v":0.56},{"p":"d","s":"g","t":500,"v":0.58},{"p":"d","s":"g","t":510,"v":0.57},{"p":"d","s":"g","t":520,"v":0.56},{"p":"d","s":"g","t":530,"v":0.55},{"p":"d","s":"g","t":540,"v":0.6},{"p":"d","s":"g","t":550,"v":0.72},{"p":"d","s":"g","t":560,"v":0.86},{"p":"d","s":"g","t":565,"v":0.87},{"p":"d","s":"g","t":575,"v":0.86},{"p":"d","s":"g","t":585,"v":0.87},{"p":"d","s":"g","t":600,"v":0.86},
{"p":"d","s":"b","t":0,"v":0.23},{"p":"d","s":"b","t":10,"v":0.19},{"p":"d","s":"b","t":20,"v":0.17},{"p":"d","s":"b","t":40,"v":0.13},{"p":"d","s":"b","t":60,"v":0.12},{"p":"d","s":"b","t":80,"v":0.1},{"p":"d","s":"b","t":90,"v":0.12},{"p":"d","s":"b","t":95,"v":0.14},{"p":"d","s":"b","t":100,"v":0.23},{"p":"d","s":"b","t":110,"v":0.3},{"p":"d","s":"b","t":120,"v":0.33},{"p":"d","s":"b","t":140,"v":0.35},{"p":"d","s":"b","t":150,"v":0.38},{"p":"d","s":"b","t":160,"v":0.4},{"p":"d","s":"b","t":170,"v":0.44},{"p":"d","s":"b","t":180,"v":0.43},{"p":"d","s":"b","t":190,"v":0.46},{"p":"d","s":"b","t":195,"v":0.42},{"p":"d","s":"b","t":200,"v":0.45},{"p":"d","s":"b","t":210,"v":0.42},{"p":"d","s":"b","t":220,"v":0.38},{"p":"d","s":"b","t":230,"v":0.33},{"p":"d","s":"b","t":240,"v":0.32},{"p":"d","s":"b","t":250,"v":0.34},{"p":"d","s":"b","t":260,"v":0.45},{"p":"d","s":"b","t":270,"v":0.55},{"p":"d","s":"b","t":280,"v":0.6},{"p":"d","s":"b","t":290,"v":0.78},{"p":"d","s":"b","t":300,"v":0.9},{"p":"d","s":"b","t":310,"v":0.98},{"p":"d","s":"b","t":315,"v":0.9},{"p":"d","s":"b","t":320,"v":0.7},{"p":"d","s":"b","t":330,"v":0.52},{"p":"d","s":"b","t":340,"v":0.55},{"p":"d","s":"b","t":350,"v":0.62},{"p":"d","s":"b","t":360,"v":0.58},{"p":"d","s":"b","t":368,"v":0.58},{"p":"d","s":"b","t":375,"v":0.4},{"p":"d","s":"b","t":380,"v":0.44},{"p":"d","s":"b","t":385,"v":0.38},{"p":"d","s":"b","t":395,"v":0.37},{"p":"d","s":"b","t":410,"v":0.38},{"p":"d","s":"b","t":420,"v":0.37},{"p":"d","s":"b","t":430,"v":0.33},{"p":"d","s":"b","t":440,"v":0.27},{"p":"d","s":"b","t":450,"v":0.3},{"p":"d","s":"b","t":460,"v":0.33},{"p":"d","s":"b","t":470,"v":0.33},{"p":"d","s":"b","t":480,"v":0.3},{"p":"d","s":"b","t":490,"v":0.38},{"p":"d","s":"b","t":500,"v":0.42},{"p":"d","s":"b","t":510,"v":0.44},{"p":"d","s":"b","t":520,"v":0.4},{"p":"d","s":"b","t":530,"v":0.38},{"p":"d","s":"b","t":540,"v":0.42},{"p":"d","s":"b","t":550,"v":0.48},{"p":"d","s":"b","t":560,"v":0.54},{"p":"d","s":"b","t":570,"v":0.5},{"p":"d","s":"b","t":580,"v":0.48},{"p":"d","s":"b","t":590,"v":0.42},{"p":"d","s":"b","t":600,"v":0.4},
{"p":"d","s":"k","t":0,"v":0.23},{"p":"d","s":"k","t":10,"v":0.18},{"p":"d","s":"k","t":20,"v":0.16},{"p":"d","s":"k","t":40,"v":0.12},{"p":"d","s":"k","t":60,"v":0.11},{"p":"d","s":"k","t":80,"v":0.09},{"p":"d","s":"k","t":90,"v":0.11},{"p":"d","s":"k","t":95,"v":0.12},{"p":"d","s":"k","t":100,"v":0.22},{"p":"d","s":"k","t":110,"v":0.3},{"p":"d","s":"k","t":120,"v":0.32},{"p":"d","s":"k","t":140,"v":0.35},{"p":"d","s":"k","t":150,"v":0.37},{"p":"d","s":"k","t":160,"v":0.37},{"p":"d","s":"k","t":170,"v":0.37},{"p":"d","s":"k","t":180,"v":0.37},{"p":"d","s":"k","t":190,"v":0.4},{"p":"d","s":"k","t":200,"v":0.39},{"p":"d","s":"k","t":210,"v":0.38},{"p":"d","s":"k","t":220,"v":0.35},{"p":"d","s":"k","t":230,"v":0.31},{"p":"d","s":"k","t":240,"v":0.29},{"p":"d","s":"k","t":250,"v":0.3},{"p":"d","s":"k","t":260,"v":0.42},{"p":"d","s":"k","t":270,"v":0.5},{"p":"d","s":"k","t":280,"v":0.55},{"p":"d","s":"k","t":290,"v":0.7},{"p":"d","s":"k","t":300,"v":0.78},{"p":"d","s":"k","t":310,"v":0.79},{"p":"d","s":"k","t":315,"v":0.75},{"p":"d","s":"k","t":320,"v":0.6},{"p":"d","s":"k","t":330,"v":0.38},{"p":"d","s":"k","t":335,"v":0.37},{"p":"d","s":"k","t":340,"v":0.5},{"p":"d","s":"k","t":350,"v":0.58},{"p":"d","s":"k","t":360,"v":0.58},{"p":"d","s":"k","t":368,"v":0.57},{"p":"d","s":"k","t":375,"v":0.38},{"p":"d","s":"k","t":380,"v":0.4},{"p":"d","s":"k","t":385,"v":0.33},{"p":"d","s":"k","t":395,"v":0.3},{"p":"d","s":"k","t":410,"v":0.31},{"p":"d","s":"k","t":420,"v":0.3},{"p":"d","s":"k","t":430,"v":0.25},{"p":"d","s":"k","t":440,"v":0.22},{"p":"d","s":"k","t":450,"v":0.25},{"p":"d","s":"k","t":460,"v":0.28},{"p":"d","s":"k","t":470,"v":0.26},{"p":"d","s":"k","t":480,"v":0.23},{"p":"d","s":"k","t":490,"v":0.36},{"p":"d","s":"k","t":500,"v":0.4},{"p":"d","s":"k","t":510,"v":0.43},{"p":"d","s":"k","t":520,"v":0.38},{"p":"d","s":"k","t":530,"v":0.36},{"p":"d","s":"k","t":540,"v":0.35},{"p":"d","s":"k","t":550,"v":0.38},{"p":"d","s":"k","t":560,"v":0.4},{"p":"d","s":"k","t":570,"v":0.35},{"p":"d","s":"k","t":580,"v":0.3},{"p":"d","s":"k","t":590,"v":0.25},{"p":"d","s":"k","t":600,"v":0.21}
]},
"data": {"name": "d"},
"spacing": 11,
"resolve": {"scale": {"color": "independent", "strokeWidth": "independent"}, "legend": {"color": "independent", "strokeWidth": "independent"}},
"vconcat": [
{"hconcat": [
{"title": {"text": "(a) Alongwind :Partial correlation"}, "width": 428, "height": 242,
 "transform": [{"filter": "datum.p=='A'||datum.p=='a'"}],
 "layer": [
  {"mark": {"type": "line", "clip": true},
   "encoding": {
    "x": {"field": "t", "type": "quantitative", "scale": {"domain": [0, 600], "nice": false}, "axis": {"values": [0,100,200,300,400,500,600], "title": "t [s]"}},
    "y": {"field": "v", "type": "quantitative", "scale": {"domain": [0, 2.5], "nice": false}, "axis": {"values": [0,0.5,1,1.5,2,2.5], "format": "~g", "title": "σₓ [cm]"}},
    "color": {"field": "s", "type": "nominal", "scale": {"domain": ["R","g","b","k"], "range": ["#ff0000","#22dd22","#0000ff","#000000"]}, "legend": {"title": null, "labelExpr": "datum.value=='R'?'Registered':datum.value=='g'?'ξ\u00a0=\u00a00.2%,\u00a0\u00a0r\u00a0=0.92':datum.value=='b'?'ξ\u00a0=\u00a00.5%,\u00a0\u00a0r\u00a0=0.95':'ξ\u00a0=\u00a01%,\u00a0\u00a0r\u00a0=0.95'"}},
    "strokeWidth": {"field": "s", "type": "nominal", "scale": {"domain": ["R","g","b","k"], "range": [2.6,1,1,1]}, "legend": {"title": null, "labelExpr": "datum.value=='R'?'Registered':datum.value=='g'?'ξ\u00a0=\u00a00.2%,\u00a0\u00a0r\u00a0=0.92':datum.value=='b'?'ξ\u00a0=\u00a00.5%,\u00a0\u00a0r\u00a0=0.95':'ξ\u00a0=\u00a01%,\u00a0\u00a0r\u00a0=0.95'"}}
   }},
  {"mark": {"type": "line", "opacity": 0},
   "encoding": {
    "x": {"field": "t", "type": "quantitative", "axis": {"orient": "top", "values": [0,100,200,300,400,500,600], "labels": false, "grid": false, "title": null}},
    "y": {"field": "v", "type": "quantitative", "axis": {"orient": "right", "values": [0,0.5,1,1.5,2,2.5], "labels": false, "grid": false, "title": null}},
    "detail": {"field": "s"}
   }}
 ],
 "resolve": {"axis": {"x": "independent", "y": "independent"}}
},
{"title": {"text": "(b) Crosswind :Partial correlation"}, "width": 424, "height": 242,
 "transform": [{"filter": "datum.p=='C'||datum.p=='b'"}],
 "layer": [
  {"mark": {"type": "line", "clip": true},
   "encoding": {
    "x": {"field": "t", "type": "quantitative", "scale": {"domain": [0, 600], "nice": false}, "axis": {"values": [0,100,200,300,400,500,600], "title": "t [s]"}},
    "y": {"field": "v", "type": "quantitative", "scale": {"domain": [0, 2], "nice": false}, "axis": {"values": [0,0.5,1,1.5,2], "format": "~g", "title": "σₓ [cm]"}},
    "color": {"field": "s", "type": "nominal", "scale": {"domain": ["R","g","b","k"], "range": ["#ff0000","#22dd22","#0000ff","#000000"]}, "legend": {"title": null, "labelExpr": "datum.value=='R'?'Registered':datum.value=='g'?'ξ\u00a0=\u00a00.2%,\u00a0\u00a0r\u00a0=0.79':datum.value=='b'?'ξ\u00a0=\u00a00.5%,\u00a0\u00a0r\u00a0=0.85':'ξ\u00a0=\u00a01%,\u00a0\u00a0r\u00a0=0.83'"}},
    "strokeWidth": {"field": "s", "type": "nominal", "scale": {"domain": ["R","g","b","k"], "range": [2.6,1,1,1]}, "legend": {"title": null, "labelExpr": "datum.value=='R'?'Registered':datum.value=='g'?'ξ\u00a0=\u00a00.2%,\u00a0\u00a0r\u00a0=0.79':datum.value=='b'?'ξ\u00a0=\u00a00.5%,\u00a0\u00a0r\u00a0=0.85':'ξ\u00a0=\u00a01%,\u00a0\u00a0r\u00a0=0.83'"}}
   }},
  {"mark": {"type": "line", "opacity": 0},
   "encoding": {
    "x": {"field": "t", "type": "quantitative", "axis": {"orient": "top", "values": [0,100,200,300,400,500,600], "labels": false, "grid": false, "title": null}},
    "y": {"field": "v", "type": "quantitative", "axis": {"orient": "right", "values": [0,0.5,1,1.5,2], "labels": false, "grid": false, "title": null}},
    "detail": {"field": "s"}
   }}
 ],
 "resolve": {"axis": {"x": "independent", "y": "independent"}}
}
], "spacing": 135, "bounds": "flush", "resolve": {"scale": {"color": "independent", "strokeWidth": "independent"}, "legend": {"color": "independent", "strokeWidth": "independent"}}},
{"hconcat": [
{"title": {"text": "(c) Alongwind :Perfect correlation"}, "width": 428, "height": 241,
 "transform": [{"filter": "datum.p=='A'||datum.p=='c'"}],
 "layer": [
  {"mark": {"type": "line", "clip": true},
   "encoding": {
    "x": {"field": "t", "type": "quantitative", "scale": {"domain": [0, 600], "nice": false}, "axis": {"values": [0,100,200,300,400,500,600], "title": "t [s]"}},
    "y": {"field": "v", "type": "quantitative", "scale": {"domain": [0, 2.5], "nice": false}, "axis": {"values": [0,0.5,1,1.5,2,2.5], "format": "~g", "title": "σₓ [cm]"}},
    "color": {"field": "s", "type": "nominal", "scale": {"domain": ["R","g","b","k"], "range": ["#ff0000","#22dd22","#0000ff","#000000"]}, "legend": {"title": null, "labelExpr": "datum.value=='R'?'Registered':datum.value=='g'?'ξ\u00a0=\u00a00.2%,\u00a0\u00a0r\u00a0=0.88':datum.value=='b'?'ξ\u00a0=\u00a00.5%,\u00a0\u00a0r\u00a0=0.93':'ξ\u00a0=\u00a01%,\u00a0\u00a0r\u00a0=0.95'"}},
    "strokeWidth": {"field": "s", "type": "nominal", "scale": {"domain": ["R","g","b","k"], "range": [2.6,1,1,1]}, "legend": {"title": null, "labelExpr": "datum.value=='R'?'Registered':datum.value=='g'?'ξ\u00a0=\u00a00.2%,\u00a0\u00a0r\u00a0=0.88':datum.value=='b'?'ξ\u00a0=\u00a00.5%,\u00a0\u00a0r\u00a0=0.93':'ξ\u00a0=\u00a01%,\u00a0\u00a0r\u00a0=0.95'"}}
   }},
  {"mark": {"type": "line", "opacity": 0},
   "encoding": {
    "x": {"field": "t", "type": "quantitative", "axis": {"orient": "top", "values": [0,100,200,300,400,500,600], "labels": false, "grid": false, "title": null}},
    "y": {"field": "v", "type": "quantitative", "axis": {"orient": "right", "values": [0,0.5,1,1.5,2,2.5], "labels": false, "grid": false, "title": null}},
    "detail": {"field": "s"}
   }}
 ],
 "resolve": {"axis": {"x": "independent", "y": "independent"}}
},
{"title": {"text": "(d) Crosswind :Perfect correlation"}, "width": 424, "height": 241,
 "transform": [{"filter": "datum.p=='C'||datum.p=='d'"}],
 "layer": [
  {"mark": {"type": "line", "clip": true},
   "encoding": {
    "x": {"field": "t", "type": "quantitative", "scale": {"domain": [0, 600], "nice": false}, "axis": {"values": [0,100,200,300,400,500,600], "title": "t [s]"}},
    "y": {"field": "v", "type": "quantitative", "scale": {"domain": [0, 2], "nice": false}, "axis": {"values": [0,0.5,1,1.5,2], "format": "~g", "title": "σₓ [cm]"}},
    "color": {"field": "s", "type": "nominal", "scale": {"domain": ["R","g","b","k"], "range": ["#ff0000","#22dd22","#0000ff","#000000"]}, "legend": {"title": null, "labelExpr": "datum.value=='R'?'Registered':datum.value=='g'?'ξ\u00a0=\u00a00.2%,\u00a0\u00a0r\u00a0=0.75':datum.value=='b'?'ξ\u00a0=\u00a00.5%,\u00a0\u00a0r\u00a0=0.83':'ξ\u00a0=\u00a01%,\u00a0\u00a0r\u00a0=0.86'"}},
    "strokeWidth": {"field": "s", "type": "nominal", "scale": {"domain": ["R","g","b","k"], "range": [2.6,1,1,1]}, "legend": {"title": null, "labelExpr": "datum.value=='R'?'Registered':datum.value=='g'?'ξ\u00a0=\u00a00.2%,\u00a0\u00a0r\u00a0=0.75':datum.value=='b'?'ξ\u00a0=\u00a00.5%,\u00a0\u00a0r\u00a0=0.83':'ξ\u00a0=\u00a01%,\u00a0\u00a0r\u00a0=0.86'"}}
   }},
  {"mark": {"type": "line", "opacity": 0},
   "encoding": {
    "x": {"field": "t", "type": "quantitative", "axis": {"orient": "top", "values": [0,100,200,300,400,500,600], "labels": false, "grid": false, "title": null}},
    "y": {"field": "v", "type": "quantitative", "axis": {"orient": "right", "values": [0,0.5,1,1.5,2], "labels": false, "grid": false, "title": null}},
    "detail": {"field": "s"}
   }}
 ],
 "resolve": {"axis": {"x": "independent", "y": "independent"}}
}
], "spacing": 135, "bounds": "flush", "resolve": {"scale": {"color": "independent", "strokeWidth": "independent"}, "legend": {"color": "independent", "strokeWidth": "independent"}}}
],
"config": {
 "font": "Liberation Serif",
 "view": {"stroke": "#1a1a1a", "strokeWidth": 2},
 "axis": {"labelFont": "Liberation Serif", "labelFontSize": 18, "labelColor": "#222222", "labelFlush": false, "titleFont": "Liberation Serif", "titleFontSize": 19, "titleFontWeight": "normal", "titleColor": "#222222", "domain": false, "tickColor": "#222222", "tickSize": -5, "tickWidth": 1.5, "labelPadding": 11, "gridColor": "#d6d6d6", "gridWidth": 1.8},
 "axisX": {"titlePadding": 2},
 "axisY": {"titlePadding": 14},
 "legend": {"orient": "top-left", "offset": 4, "strokeColor": "#1a1a1a", "strokeWidth": 2, "fillColor": "white", "padding": 5, "labelFont": "Liberation Serif", "labelFontSize": 19, "labelColor": "#111111", "symbolType": "stroke", "symbolSize": 500, "rowPadding": 0, "labelLimit": 400},
 "title": {"font": "Liberation Serif", "fontSize": 18, "fontWeight": "bold", "anchor": "start", "color": "#111111", "offset": 9}
}
}
